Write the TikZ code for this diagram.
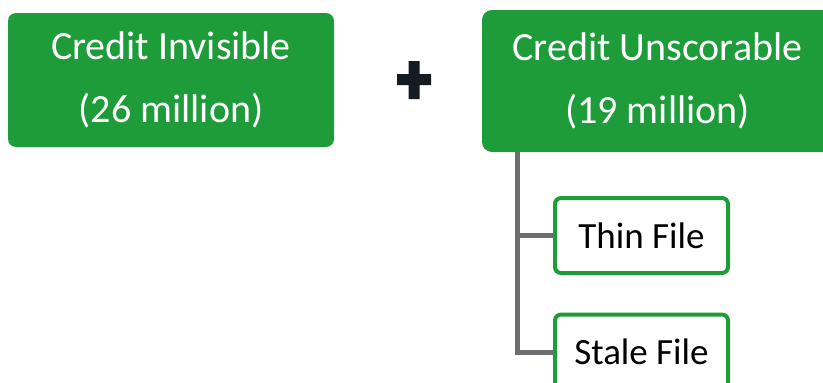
\documentclass[tikz,border=0pt]{standalone}
\usepackage{fontspec}
\setmainfont{Carlito}
\definecolor{boxgreen}{HTML}{1E9C3A}
\definecolor{linegray}{HTML}{6D6E71}
\definecolor{plusdark}{HTML}{141B23}
\begin{document}
\begin{tikzpicture}[x=1pt,y=-1pt,
  greenbox/.style={fill=boxgreen, text=white, inner sep=0pt, align=center,
    font=\fontsize{40}{63}\selectfont, anchor=center},
  filebox/.style={draw=boxgreen, line width=4pt, fill=white, text=black, inner sep=0pt,
    rounded corners=6pt, minimum width=173pt, minimum height=75pt,
    font=\fontsize{37}{44}\selectfont, anchor=center},
  branch/.style={draw=linegray, line width=5pt}
]
\useasboundingbox (0,0) rectangle (823,383);
\node[greenbox, rounded corners=8pt, minimum width=326pt, minimum height=134pt] (inv) at (171,80) {Credit Invisible\\(26 million)};
\node[greenbox, rounded corners=10pt, minimum width=351pt, minimum height=142pt] (uns) at (657.5,81) {Credit Unscorable\\(19 million)};
\node[filebox] (thin) at (641.5,235.5) {Thin File};
\node[filebox] (stale) at (641.5,352) {Stale File};
\coordinate (trunk) at (517,152);
\draw[branch] (trunk) |- (thin.west);
\draw[branch] (trunk) |- (stale.west);
\fill[plusdark] (408.5,61) -- (419.5,61) -- (419.5,74) -- (431,74) -- (431,85) -- (419.5,85) -- (419.5,99) -- (408.5,99) -- (408.5,85) -- (397,85) -- (397,74) -- (408.5,74) -- cycle;
\end{tikzpicture}
\end{document}
